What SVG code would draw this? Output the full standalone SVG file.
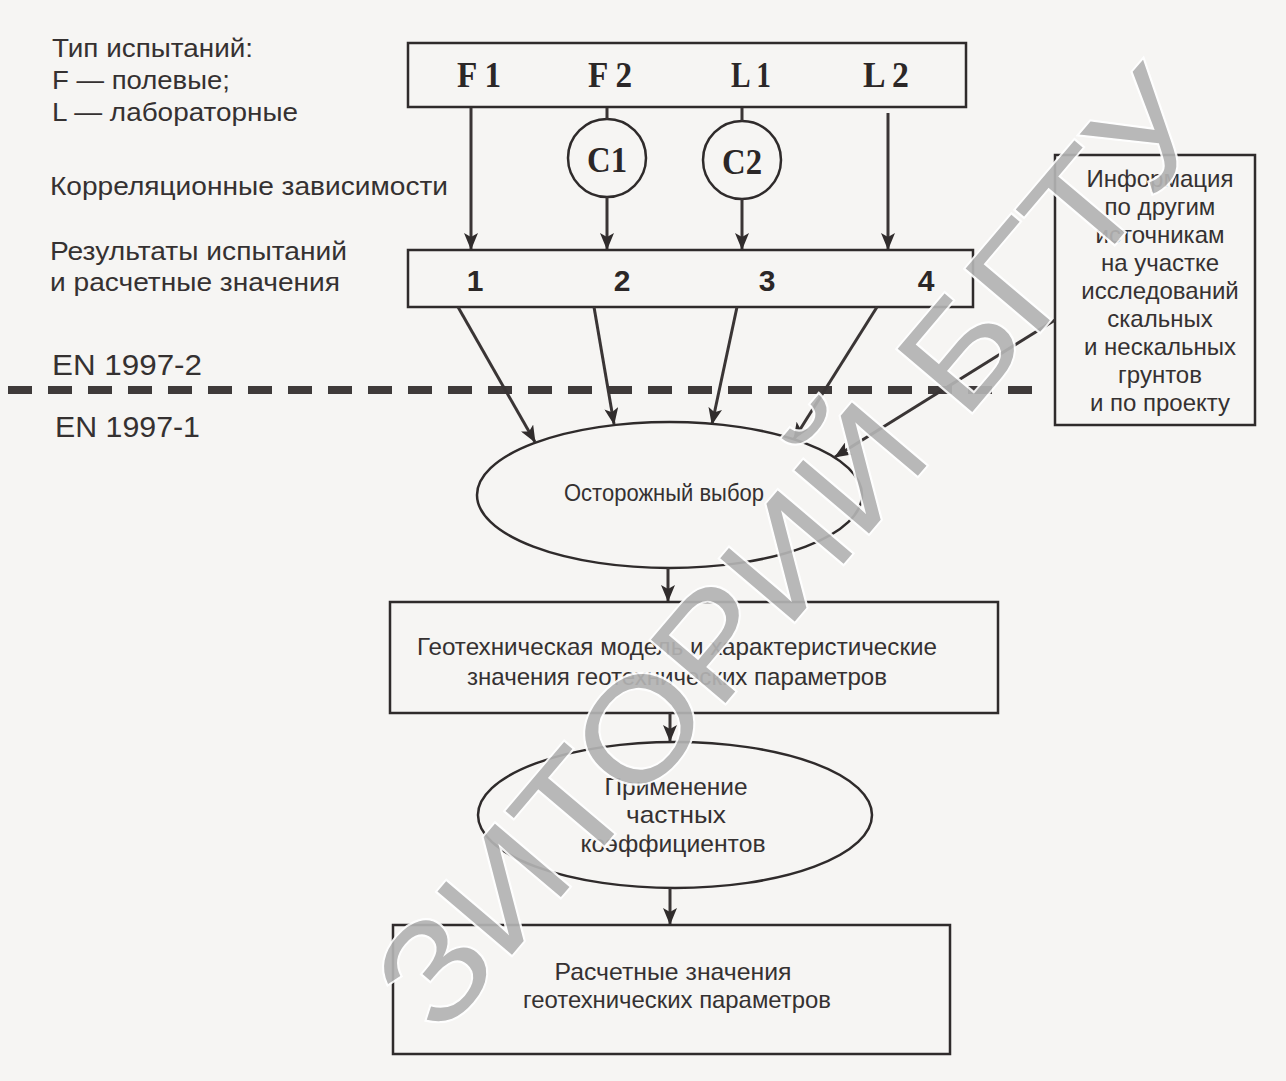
<svg xmlns="http://www.w3.org/2000/svg" width="1286" height="1081" viewBox="0 0 1286 1081">
<style>
.bg{fill:#f6f5f3}
.box{fill:none;stroke:#2f2b2b;stroke-width:2.5}
.ell{fill:none;stroke:#2f2b2b;stroke-width:2.5}
.ln{fill:none;stroke:#3a3535;stroke-width:3}
.dash{fill:none;stroke:#3f3a3a;stroke-width:8;stroke-dasharray:24 16}
.lbl{font-family:"Liberation Sans",Arial,sans-serif;font-size:26px;fill:#353131}
.en{font-family:"Liberation Sans",Arial,sans-serif;font-size:30px;fill:#353131}
.ser{font-family:"Liberation Serif","Times New Roman",serif;font-weight:bold;font-size:36px;fill:#2b2727;text-anchor:middle}
.num{font-family:"Liberation Sans",Arial,sans-serif;font-weight:bold;font-size:30px;fill:#2b2727;text-anchor:middle}
.t{font-family:"Liberation Sans",Arial,sans-serif;font-size:24px;fill:#353131;text-anchor:middle}
.wm{font-family:"Liberation Sans",Arial,sans-serif;font-weight:normal;font-size:142px;fill:#b3b3b3;stroke:#ffffff;stroke-width:4;paint-order:stroke;text-anchor:middle;opacity:0.92}
</style>
<defs>
<marker id="ah" markerWidth="18" markerHeight="14" refX="16" refY="7" orient="auto" markerUnits="userSpaceOnUse">
<path d="M0,0 L17,7 L0,14 L4,7 z" fill="#302c2c"/>
</marker>
</defs>
<rect class="bg" x="0" y="0" width="1286" height="1081"/>

<g id="legend">
<text class="lbl" x="52" y="57" textLength="201" lengthAdjust="spacingAndGlyphs">Тип испытаний:</text>
<text class="lbl" x="52" y="89" textLength="178" lengthAdjust="spacingAndGlyphs">F — полевые;</text>
<text class="lbl" x="52" y="121" textLength="246" lengthAdjust="spacingAndGlyphs">L — лабораторные</text>
<text class="lbl" x="50" y="195" textLength="398" lengthAdjust="spacingAndGlyphs">Корреляционные зависимости</text>
<text class="lbl" x="50" y="260" textLength="297" lengthAdjust="spacingAndGlyphs">Результаты испытаний</text>
<text class="lbl" x="50" y="291" textLength="290" lengthAdjust="spacingAndGlyphs">и расчетные значения</text>
<text class="en" x="52" y="375" textLength="150" lengthAdjust="spacingAndGlyphs">EN 1997-2</text>
<text class="en" x="55" y="437" textLength="145" lengthAdjust="spacingAndGlyphs">EN 1997-1</text>
</g>

<g id="tests">
<rect class="box" x="408" y="43" width="558" height="64"/>
<text class="ser" x="479" y="87" textLength="44" lengthAdjust="spacingAndGlyphs">F 1</text>
<text class="ser" x="610" y="87" textLength="44" lengthAdjust="spacingAndGlyphs">F 2</text>
<text class="ser" x="751" y="87" textLength="40" lengthAdjust="spacingAndGlyphs">L 1</text>
<text class="ser" x="886" y="87" textLength="46" lengthAdjust="spacingAndGlyphs">L 2</text>
</g>

<g id="c1">
<circle class="ell" cx="607" cy="158" r="39"/>
<text class="ser" x="607" y="172" font-size="40" textLength="40" lengthAdjust="spacingAndGlyphs">C1</text>
</g>
<g id="c2">
<circle class="ell" cx="742" cy="160" r="39"/>
<text class="ser" x="742" y="174" font-size="40" textLength="40" lengthAdjust="spacingAndGlyphs">C2</text>
</g>

<g id="results">
<rect class="box" x="408" y="250" width="565" height="57"/>
<text class="num" x="475" y="291">1</text>
<text class="num" x="622" y="291">2</text>
<text class="num" x="767" y="291">3</text>
<text class="num" x="926" y="291">4</text>
</g>

<g id="info">
<rect class="box" x="1055" y="155" width="200" height="270"/>
<text class="t" x="1160" y="187">Информация</text>
<text class="t" x="1160" y="215">по другим</text>
<text class="t" x="1160" y="243">источникам</text>
<text class="t" x="1160" y="271">на участке</text>
<text class="t" x="1160" y="299">исследований</text>
<text class="t" x="1160" y="327">скальных</text>
<text class="t" x="1160" y="355">и нескальных</text>
<text class="t" x="1160" y="383">грунтов</text>
<text class="t" x="1160" y="411">и по проекту</text>
</g>

<g id="selection">
<ellipse class="ell" cx="669.5" cy="495" rx="192.5" ry="73"/>
<text class="t" x="664" y="501" textLength="200" lengthAdjust="spacingAndGlyphs">Осторожный выбор</text>
</g>

<g id="model">
<rect class="box" x="390" y="602" width="608" height="111"/>
<text class="t" x="677" y="655" textLength="520" lengthAdjust="spacingAndGlyphs">Геотехническая модель и характеристические</text>
<text class="t" x="677" y="685" textLength="420" lengthAdjust="spacingAndGlyphs">значения геотехнических параметров</text>
</g>

<g id="factors">
<ellipse class="ell" cx="675" cy="815" rx="197" ry="73"/>
<text class="t" x="676" y="795" textLength="143" lengthAdjust="spacingAndGlyphs">Применение</text>
<text class="t" x="676" y="823" textLength="100" lengthAdjust="spacingAndGlyphs">частных</text>
<text class="t" x="673" y="852" textLength="185" lengthAdjust="spacingAndGlyphs">коэффициентов</text>
</g>

<g id="design">
<rect class="box" x="393" y="925" width="557" height="129"/>
<text class="t" x="673" y="980" textLength="237" lengthAdjust="spacingAndGlyphs">Расчетные значения</text>
<text class="t" x="677" y="1008" textLength="308" lengthAdjust="spacingAndGlyphs">геотехнических параметров</text>
</g>

<g id="connectors">
<path class="dash" d="M8,390 H1040"/>
<path class="ln" d="M471,108 V249" marker-end="url(#ah)"/>
<path class="ln" d="M607,108 V119"/>
<path class="ln" d="M607,197 V249" marker-end="url(#ah)"/>
<path class="ln" d="M742,108 V121"/>
<path class="ln" d="M742,199 V249" marker-end="url(#ah)"/>
<path class="ln" d="M888,113 V249" marker-end="url(#ah)"/>
<path class="ln" d="M458,307 L535,442" marker-end="url(#ah)"/>
<path class="ln" d="M594,307 L614,424" marker-end="url(#ah)"/>
<path class="ln" d="M737,307 L712,424" marker-end="url(#ah)"/>
<path class="ln" d="M877,307 L794,439" marker-end="url(#ah)"/>
<path class="ln" d="M1055,320 L835,457" marker-end="url(#ah)"/>
<path class="ln" d="M668,568 V601" marker-end="url(#ah)"/>
<path class="ln" d="M670,713 V741" marker-end="url(#ah)"/>
<path class="ln" d="M670,888 V924" marker-end="url(#ah)"/>
</g>

<g id="watermark">
<text class="wm" transform="translate(790,548) rotate(-49.7)" x="0" y="51" textLength="1200" lengthAdjust="spacingAndGlyphs">ЗИТОРИЙ БГТУ</text>
</g>
</svg>
